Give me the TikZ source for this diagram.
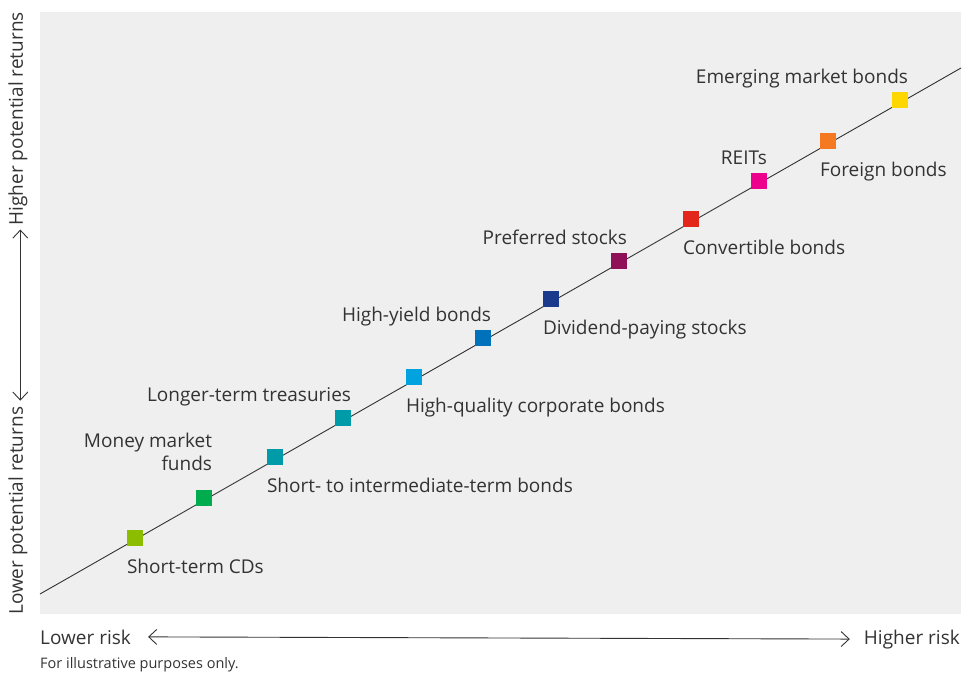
\documentclass[tikz,border=0pt]{standalone}
\usepackage{fontspec}
\setmainfont{Open Sans}
\usetikzlibrary{arrows.meta}

\definecolor{panel}{HTML}{EFEFEF}
\definecolor{ink}{HTML}{333333}
\definecolor{cdgreen}{HTML}{8CBD00}
\definecolor{mmgreen}{HTML}{00AC4E}
\definecolor{teal}{HTML}{009BA9}
\definecolor{skyblue}{HTML}{00A3E0}
\definecolor{midblue}{HTML}{0072BC}
\definecolor{navy}{HTML}{1B3A8C}
\definecolor{plum}{HTML}{8F1059}
\definecolor{bondred}{HTML}{E3261B}
\definecolor{magenta}{HTML}{EC008C}
\definecolor{orange}{HTML}{F47920}
\definecolor{yellow}{HTML}{FFD700}

\tikzset{
  abovelbl/.style={anchor=base east, inner sep=0pt, yshift=8pt},
  belowlbl/.style={anchor=base west, inner sep=0pt, yshift=-27pt},
  axarrow/.style={draw=ink, line width=0.9pt,
    {Straight Barb[length=8pt,width=15pt]}-{Straight Barb[length=8pt,width=15pt]}}
}

\begin{document}
\begin{tikzpicture}[x=1pt, y=-1pt, font=\fontsize{19}{23}\selectfont, text=ink]

        \useasboundingbox (0,0) rectangle (963,673);
        \fill[panel] (40,12) rectangle (961,614);

        \coordinate (lo) at (40,594);
        \coordinate (hi) at (961,68);
        \draw[ink, line width=0.9pt] (lo) -- (hi);

        \begin{scope}[every node/.style={rectangle, minimum size=16pt, inner sep=0pt}]
          \node[fill=cdgreen] (cd)   at (135,538) {};
          \node[fill=mmgreen] (mm)   at (204,498) {};
          \node[fill=teal]    (sib)  at (275,457) {};
          \node[fill=teal]    (ltt)  at (343,418) {};
          \node[fill=skyblue] (hqc)  at (414,377) {};
          \node[fill=midblue] (hy)   at (483,338) {};
          \node[fill=navy]    (dps)  at (551,299) {};
          \node[fill=plum]    (ps)   at (619,261) {};
          \node[fill=bondred] (cvb)  at (691,219) {};
          \node[fill=magenta] (reit) at (759,181) {};
          \node[fill=orange]  (fb)   at (828,141) {};
          \node[fill=yellow]  (emb)  at (900,100) {};
        \end{scope}

        \node[belowlbl] at (cd.south west)   {Short-term CDs};
        \node[abovelbl, anchor=south east, yshift=11pt, align=right] at (mm.north east) {Money market\\funds};
        \node[belowlbl] at (sib.south west)  {Short- to intermediate-term bonds};
        \node[abovelbl] at (ltt.north east)  {Longer-term treasuries};
        \node[belowlbl] at (hqc.south west)  {High-quality corporate bonds};
        \node[abovelbl] at (hy.north east)   {High-yield bonds};
        \node[belowlbl] at (dps.south west)  {Dividend-paying stocks};
        \node[abovelbl] at (ps.north east)   {Preferred stocks};
        \node[belowlbl] at (cvb.south west)  {Convertible bonds};
        \node[abovelbl] at (reit.north east) {REITs};
        \node[belowlbl] at (fb.south west)   {Foreign bonds};
        \node[abovelbl] at (emb.north east)  {Emerging market bonds};

        % axes
        \node[anchor=base west, inner sep=0pt] (lr) at (40,644) {Lower risk};
        \node[anchor=base east, inner sep=0pt] (hr) at (960,644) {Higher risk};
        \path[axarrow] ([xshift=17pt]lr.east) -- ([xshift=-14pt]hr.west);

        \node[anchor=base west, rotate=90, inner sep=0pt] (lpr) at (23,615) {Lower potential returns};
        \node[anchor=base east, rotate=90, inner sep=0pt] (hpr) at (23,12) {Higher potential returns};
        \path[axarrow] ([yshift=6pt]lpr.mid east) -- ([yshift=-4pt]hpr.mid west);

        \node[anchor=base west, inner sep=0pt, font=\fontsize{14.5}{17}\selectfont] (note) at (40,668) {For illustrative purposes only.};

      \end{tikzpicture}
\end{document}
